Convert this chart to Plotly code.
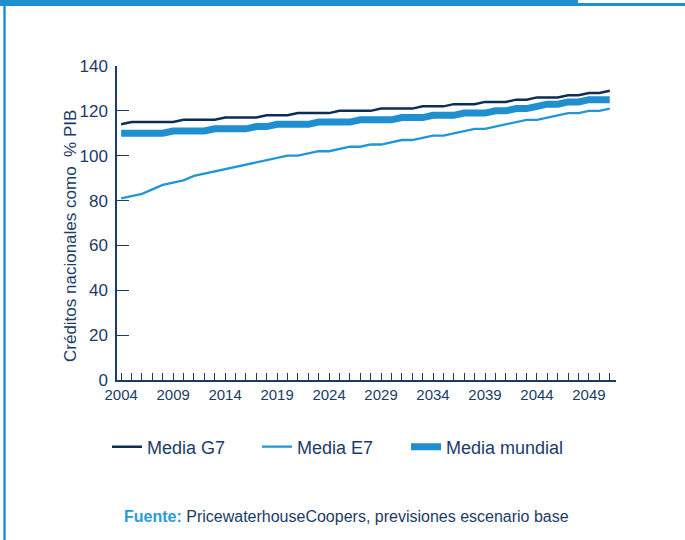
import plotly.graph_objects as go

# Years and series (credit as % of GDP)
years = list(range(2004, 2052))
g7 = [114, 115, 115, 115, 115, 115, 116, 116, 116, 116, 117, 117, 117, 117,
      118, 118, 118, 119, 119, 119, 119, 120, 120, 120, 120, 121, 121, 121,
      121, 122, 122, 122, 123, 123, 123, 124, 124, 124, 125, 125, 126, 126,
      126, 127, 127, 128, 128, 129]
e7 = [81, 82, 83, 85, 87, 88, 89, 91, 92, 93, 94, 95, 96, 97, 98, 99, 100,
      100, 101, 102, 102, 103, 104, 104, 105, 105, 106, 107, 107, 108, 109,
      109, 110, 111, 112, 112, 113, 114, 115, 116, 116, 117, 118, 119, 119,
      120, 120, 121]
world = [110, 110, 110, 110, 110, 111, 111, 111, 111, 112, 112, 112, 112,
         113, 113, 114, 114, 114, 114, 115, 115, 115, 115, 116, 116, 116,
         116, 117, 117, 117, 118, 118, 118, 119, 119, 119, 120, 120, 121,
         121, 122, 123, 123, 124, 124, 125, 125, 125]
series_names = ["Media G7", "Media E7", "Media mundial"]
y_ticks = [0, 20, 40, 60, 80, 100, 120, 140]
x_ticks = list(range(2004, 2050, 5))

NAVY = "#0c2d55"
TEXT = "#1b3c66"
LIGHT = "#2196d6"
WORLD = "#1f8fcf"
FRAME = "#1e90d0"

W, H = 685, 540
L, R, T, B = 117, 616, 66, 380

def px(x):
    return (x - L) / (R - L)

def py(y):
    return (B - y) / (B - T)

fig = go.Figure()
fig.add_trace(go.Scatter(x=years, y=g7, name=series_names[0], mode="lines",
                         line=dict(color=NAVY, width=2.5), legend="legend"))
fig.add_trace(go.Scatter(x=years, y=e7, name=series_names[1], mode="lines",
                         line=dict(color=LIGHT, width=2.3), legend="legend2"))
fig.add_trace(go.Scatter(x=years, y=world, name=series_names[2], mode="lines",
                         line=dict(color=WORLD, width=7), legend="legend3"))

# Frame decoration: top band and left rule
shapes = [
    dict(type="rect", xref="paper", yref="paper", x0=px(0), x1=px(578),
         y0=py(6), y1=py(0), fillcolor=FRAME, line_width=0, layer="above"),
    dict(type="rect", xref="paper", yref="paper", x0=px(578), x1=px(685),
         y0=py(6), y1=py(3), fillcolor=FRAME, line_width=0, layer="above"),
    dict(type="rect", xref="paper", yref="paper", x0=px(3.3), x1=px(5.7),
         y0=py(540), y1=py(0), fillcolor=FRAME, line_width=0, layer="above"),
]

def legend_at(x):
    return dict(orientation="h", x=px(x), y=py(447), xanchor="left",
                yanchor="middle", font=dict(size=18, color=TEXT), itemwidth=30,
                bgcolor="rgba(0,0,0,0)")

fig.update_layout(
    width=W, height=H,
    margin=dict(l=L, r=W - R, t=T, b=H - B),
    paper_bgcolor="white", plot_bgcolor="white",
    font=dict(family="Liberation Sans, Arial, sans-serif", color=TEXT, size=15),
    showlegend=True,
    legend=legend_at(107),
    legend2=legend_at(257),
    legend3=legend_at(406),
    shapes=shapes,
    annotations=[
        dict(text="Créditos nacionales como\u00a0\u00a0% PIB", textangle=-90,
             xref="paper", yref="paper", x=px(70), y=py(236),
             xanchor="center", yanchor="middle",
             showarrow=False, font=dict(size=17, color=TEXT)),
        dict(text="<b><span style='color:#2a9ad8'>Fuente:</span></b> "
                  "PricewaterhouseCoopers, previsiones escenario base",
             xref="paper", yref="paper", x=px(346), y=py(516),
             xanchor="center", yanchor="middle",
             showarrow=False, font=dict(size=16, color=TEXT)),
    ],
)

fig.update_xaxes(
    range=[2003.6, 2051.6], tickmode="array", tickvals=x_ticks,
    ticktext=[str(v) for v in x_ticks],
    showline=True, linecolor=TEXT, linewidth=1.5,
    ticks="inside", ticklen=7, tickwidth=1.2, tickcolor=TEXT,
    minor=dict(dtick=1, tick0=2004, ticks="inside", ticklen=7, tickwidth=1.2,
               tickcolor=TEXT),
    showgrid=False, zeroline=False, tickfont=dict(size=15, color=TEXT),
)
fig.update_yaxes(
    range=[0, 140], tickvals=y_ticks,
    showline=True, linecolor=TEXT, linewidth=1.5,
    ticks="inside", ticklen=12, tickwidth=1.2, tickcolor=TEXT,
    showgrid=False, zeroline=False, tickfont=dict(size=17, color=TEXT),
    ticklabelstandoff=4,
)

fig.write_html("out.html")
